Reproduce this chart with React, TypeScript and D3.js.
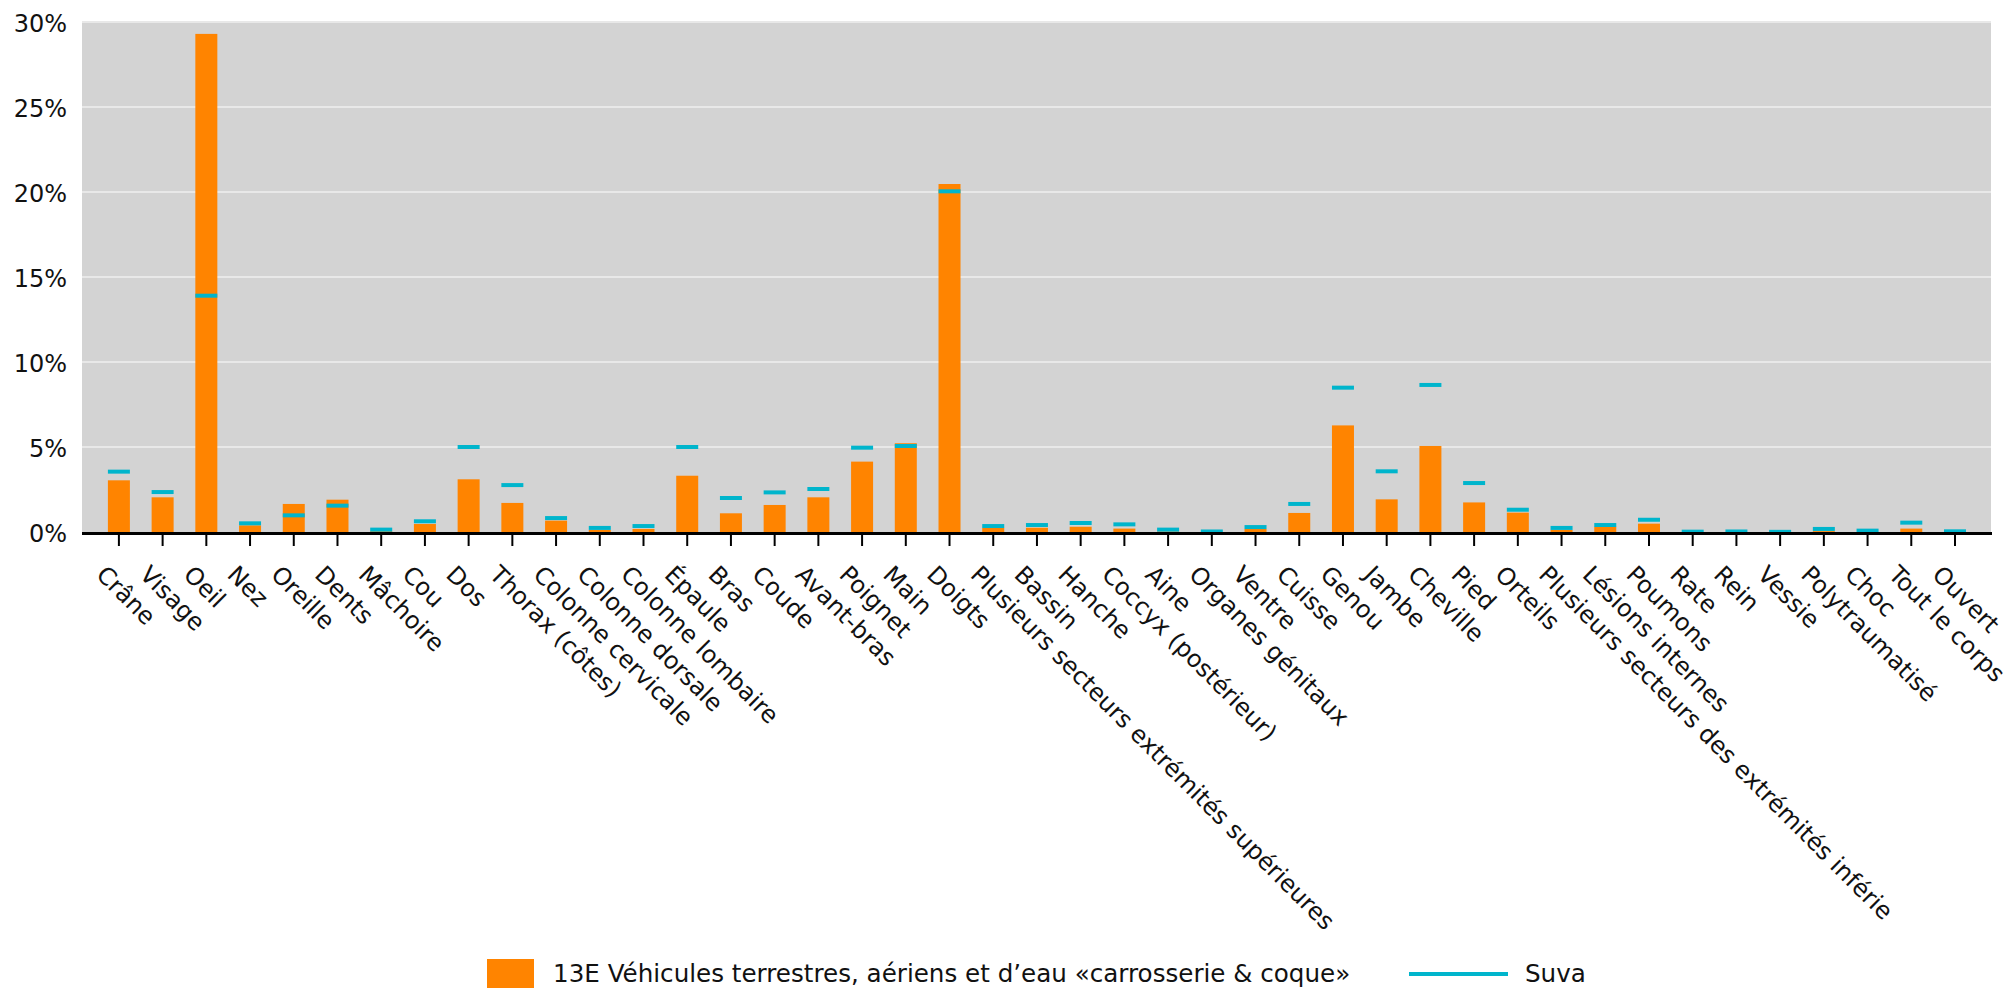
import React from "react";
import * as d3 from "d3";

// body parts (x axis)
const categories = [
  "Crâne", "Visage", "Oeil", "Nez", "Oreille", "Dents", "Mâchoire", "Cou", "Dos",
  "Thorax (côtes)", "Colonne cervicale", "Colonne dorsale", "Colonne lombaire",
  "Épaule", "Bras", "Coude", "Avant-bras", "Poignet", "Main", "Doigts",
  "Plusieurs secteurs extrémités supérieures", "Bassin", "Hanche",
  "Coccyx (postérieur)", "Aine", "Organes génitaux", "Ventre", "Cuisse", "Genou",
  "Jambe", "Cheville", "Pied", "Orteils",
  "Plusieurs secteurs des extrémités inférie", "Lésions internes", "Poumons",
  "Rate", "Rein", "Vessie", "Polytraumatisé", "Choc", "Tout le corps", "Ouvert",
];

// share in % for the branch (bars)
const branchValues = [
  3.04, 2.04, 29.3, 0.39, 1.65, 1.9, 0.05, 0.47, 3.1, 1.71, 0.67, 0.12, 0.18,
  3.31, 1.1, 1.59, 2.04, 4.14, 5.22, 20.47, 0.24, 0.25, 0.31, 0.2, 0.03, 0,
  0.18, 1.12, 6.27, 1.92, 5.06, 1.74, 1.14, 0.12, 0.31, 0.49, 0, 0, 0, 0.05, 0,
  0.2, 0,
];

// share in % for Suva overall (markers)
const suvaValues = [
  3.55, 2.35, 13.9, 0.51, 0.98, 1.55, 0.14, 0.63, 5.0, 2.76, 0.82, 0.24, 0.35,
  5.0, 2.0, 2.33, 2.53, 4.96, 5.06, 20.04, 0.35, 0.41, 0.53, 0.45, 0.14, 0.03,
  0.29, 1.65, 8.49, 3.57, 8.65, 2.88, 1.31, 0.24, 0.41, 0.72, 0.02, 0.03, 0.01,
  0.18, 0.08, 0.55, 0.04,
];

const yTicks = [0, 5, 10, 15, 20, 25, 30];

const branchLabel = "13E Véhicules terrestres, aériens et d’eau «carrosserie & coque»";
const suvaLabel = "Suva";

const width = 2011;
const height = 991;
const plot = { left: 82, right: 1991, top: 22, bottom: 532 };
const font = "'DejaVu Sans', Verdana, sans-serif";
const orange = "#ff8400";
const cyan = "#00b5cc";

export default function App() {
  const x = d3
    .scalePoint<string>()
    .domain(categories)
    .range([118.9, 1955]);
  const y = d3.scaleLinear().domain([0, 30]).range([plot.bottom, plot.top]);
  const barW = 22;

  return (
    <svg
      width={width}
      height={height}
      style={{ position: "absolute", left: 0, top: 0, background: "#fff" }}
      fontFamily={font}
    >
      {/* plot background */}
      <rect
        x={plot.left}
        y={plot.top}
        width={plot.right - plot.left}
        height={plot.bottom - plot.top}
        fill="#d3d3d3"
      />

      {/* gridlines + y labels */}
      {yTicks.map((t) => (
        <g key={t}>
          {t > 0 && (
            <line
              x1={plot.left}
              x2={plot.right}
              y1={y(t)}
              y2={y(t)}
              stroke="#e8e8e8"
              strokeWidth={2}
            />
          )}
          <text
            x={67}
            y={y(t) + 3}
            textAnchor="end"
            dominantBaseline="middle"
            fontSize={24}
            fill="#111"
          >
            {t}%
          </text>
        </g>
      ))}

      {/* bars */}
      {categories.map((c, i) => (
        <rect
          key={c}
          x={(x(c) as number) - barW / 2}
          y={y(branchValues[i])}
          width={barW}
          height={y(0) - y(branchValues[i])}
          fill={orange}
        />
      ))}

      {/* Suva markers */}
      {categories.map((c, i) => (
        <line
          key={c}
          x1={(x(c) as number) - barW / 2}
          x2={(x(c) as number) + barW / 2}
          y1={y(suvaValues[i])}
          y2={y(suvaValues[i])}
          stroke={cyan}
          strokeWidth={4}
        />
      ))}

      {/* x axis */}
      <line
        x1={plot.left}
        x2={plot.right + 1}
        y1={533.5}
        y2={533.5}
        stroke="#000"
        strokeWidth={3}
      />
      {categories.map((c) => (
        <g key={c}>
          <line
            x1={x(c)}
            x2={x(c)}
            y1={535}
            y2={546}
            stroke="#000"
            strokeWidth={2}
          />
          <text
            transform={`translate(${(x(c) as number) - 24},576) rotate(45)`}
            fontSize={24}
            fill="#111"
          >
            {c}
          </text>
        </g>
      ))}

      {/* legend */}
      <rect x={487} y={959} width={47} height={29} fill={orange} />
      <text x={553} y={975} dominantBaseline="middle" fontSize={24.6} fill="#111">
        {branchLabel}
      </text>
      <line x1={1409} x2={1508} y1={974} y2={974} stroke={cyan} strokeWidth={4} />
      <text x={1525} y={975} dominantBaseline="middle" fontSize={24.6} fill="#111">
        {suvaLabel}
      </text>
    </svg>
  );
}
